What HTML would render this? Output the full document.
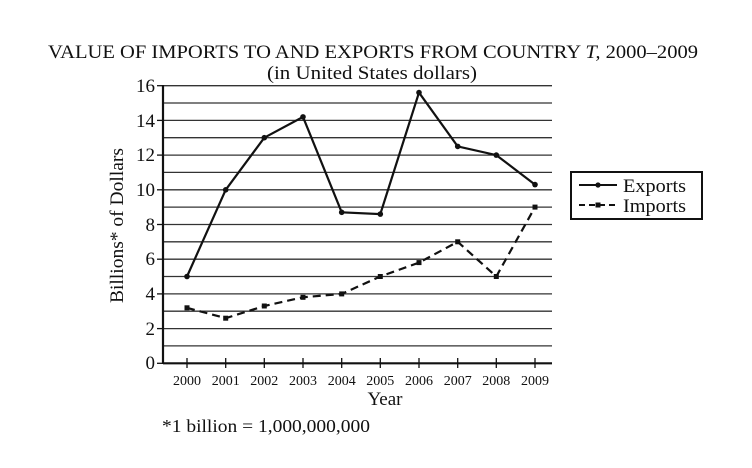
<!DOCTYPE html>
<html><head><style>body{margin:0;background:#fff}svg{display:block}text{font-family:"Liberation Serif",serif;fill:#111}</style></head><body>
<svg width="752" height="468" viewBox="0 0 752 468">
<text x="48" y="58" font-size="19" textLength="650" lengthAdjust="spacingAndGlyphs">VALUE OF IMPORTS TO AND EXPORTS FROM COUNTRY <tspan font-style="italic">T,</tspan> 2000–2009</text>
<text x="267" y="79" font-size="19" textLength="210" lengthAdjust="spacingAndGlyphs">(in United States dollars)</text>
<g stroke="#333" stroke-width="1.3">
<line x1="163" x2="552" y1="85.7" y2="85.7"/><line x1="163" x2="552" y1="103" y2="103"/><line x1="163" x2="552" y1="120.4" y2="120.4"/><line x1="163" x2="552" y1="137.7" y2="137.7"/><line x1="163" x2="552" y1="155.1" y2="155.1"/><line x1="163" x2="552" y1="172.4" y2="172.4"/><line x1="163" x2="552" y1="189.8" y2="189.8"/><line x1="163" x2="552" y1="207.1" y2="207.1"/><line x1="163" x2="552" y1="224.5" y2="224.5"/><line x1="163" x2="552" y1="241.8" y2="241.8"/><line x1="163" x2="552" y1="259.2" y2="259.2"/><line x1="163" x2="552" y1="276.5" y2="276.5"/><line x1="163" x2="552" y1="293.9" y2="293.9"/><line x1="163" x2="552" y1="311.2" y2="311.2"/><line x1="163" x2="552" y1="328.6" y2="328.6"/><line x1="163" x2="552" y1="345.9" y2="345.9"/>
</g>
<g stroke="#111" stroke-width="2.2">
<line x1="163" x2="163" y1="85" y2="364"/><line x1="163" x2="552" y1="363.3" y2="363.3"/>
</g>
<g stroke="#111" stroke-width="1.3">
<line x1="157" x2="163" y1="85.7" y2="85.7"/><line x1="157" x2="163" y1="120.4" y2="120.4"/><line x1="157" x2="163" y1="155.1" y2="155.1"/><line x1="157" x2="163" y1="189.8" y2="189.8"/><line x1="157" x2="163" y1="224.5" y2="224.5"/><line x1="157" x2="163" y1="259.2" y2="259.2"/><line x1="157" x2="163" y1="293.9" y2="293.9"/><line x1="157" x2="163" y1="328.6" y2="328.6"/><line x1="157" x2="163" y1="363.3" y2="363.3"/>
<line x1="187" x2="187" y1="358" y2="368"/><line x1="225.7" x2="225.7" y1="358" y2="368"/><line x1="264.3" x2="264.3" y1="358" y2="368"/><line x1="303" x2="303" y1="358" y2="368"/><line x1="341.7" x2="341.7" y1="358" y2="368"/><line x1="380.3" x2="380.3" y1="358" y2="368"/><line x1="419" x2="419" y1="358" y2="368"/><line x1="457.7" x2="457.7" y1="358" y2="368"/><line x1="496.3" x2="496.3" y1="358" y2="368"/><line x1="535" x2="535" y1="358" y2="368"/>
</g>
<g font-size="19" text-anchor="end">
<text x="155" y="92">16</text><text x="155" y="127">14</text><text x="155" y="161">12</text><text x="155" y="196">10</text><text x="155" y="231">8</text><text x="155" y="265">6</text><text x="155" y="300">4</text><text x="155" y="335">2</text><text x="155" y="369">0</text>
</g>
<g font-size="14" text-anchor="middle">
<text x="187" y="385">2000</text><text x="225.7" y="385">2001</text><text x="264.3" y="385">2002</text><text x="303" y="385">2003</text><text x="341.7" y="385">2004</text><text x="380.3" y="385">2005</text><text x="419" y="385">2006</text><text x="457.7" y="385">2007</text><text x="496.3" y="385">2008</text><text x="535" y="385">2009</text>
</g>
<text x="385" y="405" text-anchor="middle" font-size="19">Year</text>
<text transform="translate(123,303) rotate(-90)" font-size="19" textLength="155" lengthAdjust="spacingAndGlyphs">Billions* of Dollars</text>
<text x="162" y="432" font-size="18" textLength="208" lengthAdjust="spacingAndGlyphs">*1 billion = 1,000,000,000</text>
<polyline fill="none" stroke="#111" stroke-width="2.2" points="187,276.5 225.7,189.8 264.3,137.7 303,116.9 341.7,212.3 380.3,214.1 419,92.6 457.7,146.4 496.3,155.1 535,184.6"/>
<g fill="#111"><circle cx="187" cy="276.5" r="2.8"/><circle cx="225.7" cy="189.8" r="2.8"/><circle cx="264.3" cy="137.7" r="2.8"/><circle cx="303" cy="116.9" r="2.8"/><circle cx="341.7" cy="212.3" r="2.8"/><circle cx="380.3" cy="214.1" r="2.8"/><circle cx="419" cy="92.6" r="2.8"/><circle cx="457.7" cy="146.4" r="2.8"/><circle cx="496.3" cy="155.1" r="2.8"/><circle cx="535" cy="184.6" r="2.8"/></g>
<polyline fill="none" stroke="#111" stroke-width="2.2" stroke-dasharray="8,5" points="187,307.8 225.7,318.2 264.3,306 303,297.3 341.7,293.9 380.3,276.5 419,262.6 457.7,241.8 496.3,276.5 535,207.1"/>
<g fill="#111"><rect x="184.5" y="305.3" width="5" height="5"/><rect x="223.2" y="315.7" width="5" height="5"/><rect x="261.8" y="303.5" width="5" height="5"/><rect x="300.5" y="294.8" width="5" height="5"/><rect x="339.2" y="291.4" width="5" height="5"/><rect x="377.8" y="274" width="5" height="5"/><rect x="416.5" y="260.1" width="5" height="5"/><rect x="455.2" y="239.3" width="5" height="5"/><rect x="493.8" y="274" width="5" height="5"/><rect x="532.5" y="204.6" width="5" height="5"/></g>
<rect x="571" y="172" width="131" height="47" fill="none" stroke="#111" stroke-width="2"/>
<line x1="579" x2="617" y1="185" y2="185" stroke="#111" stroke-width="2"/><circle cx="598" cy="185" r="2.6" fill="#111"/>
<line x1="579" x2="617" y1="205" y2="205" stroke="#111" stroke-width="2" stroke-dasharray="6,4"/><rect x="595.5" y="202.5" width="5" height="5" fill="#111"/>
<text x="623" y="192" font-size="19" textLength="63" lengthAdjust="spacingAndGlyphs">Exports</text>
<text x="623" y="212" font-size="19" textLength="63" lengthAdjust="spacingAndGlyphs">Imports</text>
</svg>
</body></html>
